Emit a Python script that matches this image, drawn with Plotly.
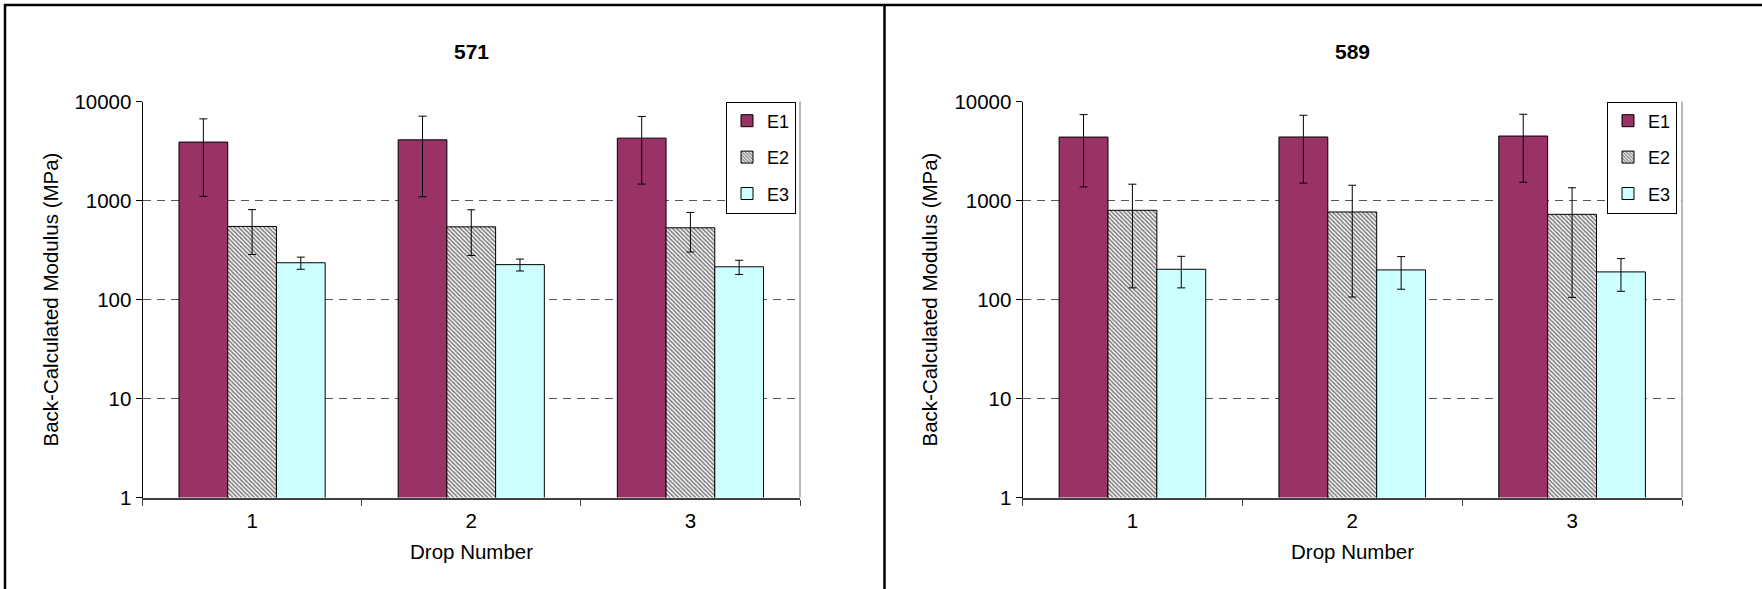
import plotly.graph_objects as go

# ---- data ----
drops = ["1", "2", "3"]
series_names = ["E1", "E2", "E3"]

# Section 571
e1_571 = [3890, 4100, 4265]
e1_571_sd = [2790, 3010, 2800]
e2_571 = [547, 542, 530]
e2_571_sd = [262, 264, 228]
e3_571 = [235, 225, 214]
e3_571_sd = [33, 31, 35]

# Section 589
e1_589 = [4370, 4380, 4480]
e1_589_sd = [3000, 2880, 2950]
e2_589 = [796, 766, 725]
e2_589_sd = [665, 660, 620]
e3_589 = [202, 199, 190]
e3_589_sd = [71, 72, 69]

panel_titles = ["571", "589"]
y_tickvals = [1, 10, 100, 1000, 10000]
y_ticktext = ["1", "10", "100", "1000", "10000"]
x_title = "Drop Number"
y_title = "Back-Calculated Modulus (MPa)"

W, H = 1762, 589
FONT = "Liberation Sans, Arial, sans-serif"
FS = 20.5

def px(x):
    return x / W

def py(y):
    return 1 - y / H

styles = {
    "E1": dict(color="#993366"),
    "E2": dict(color="white", pattern=dict(shape="\\", size=3, solidity=0.55,
                                           fgcolor="#000000", bgcolor="white", fillmode="overlay")),
    "E3": dict(color="#CCFFFF"),
}

panels = [
    dict(vals=[e1_571, e2_571, e3_571], sds=[e1_571_sd, e2_571_sd, e3_571_sd],
         xa="x", ya="y", leg="legend", dom=(142.5, 800), legx=726, ytitle_x=50, title=panel_titles[0]),
    dict(vals=[e1_589, e2_589, e3_589], sds=[e1_589_sd, e2_589_sd, e3_589_sd],
         xa="x2", ya="y2", leg="legend2", dom=(1022.5, 1682), legx=1607, ytitle_x=929, title=panel_titles[1]),
]

fig = go.Figure()
for pi, p in enumerate(panels):
    for name, v, sd in zip(series_names, p["vals"], p["sds"]):
        fig.add_trace(go.Bar(
            x=drops, y=v, name=name,
            marker=dict(line=dict(color="black", width=1), **styles[name]),
            error_y=dict(type="data", array=sd, visible=True, color="black", thickness=1, width=4),
            xaxis=p["xa"], yaxis=p["ya"], legend=p["leg"],
            legendgroup=f"{pi}_{name}",
        ))

ydom = [py(497.5), py(101.5)]
axis_common_y = dict(
    type="log", range=[0, 4], tickvals=y_tickvals, ticktext=y_ticktext,
    showgrid=True, gridcolor="#555555", griddash="8px,6px", gridwidth=1,
    showline=True, linecolor="black", linewidth=1,
    ticks="outside", ticklen=6, tickcolor="black",
    tickfont=dict(family=FONT, size=FS, color="black"),
    domain=ydom, automargin=False,
)
axis_common_x = dict(
    type="category", tickson="boundaries", ticks="outside", ticklen=6,
    tickcolor="#404040", showline=True, linecolor="#404040", linewidth=2,
    showgrid=False, tickfont=dict(family=FONT, size=FS, color="black"),
    ticklabelstandoff=4, automargin=False,
)

layout = dict(
    width=W, height=H, autosize=False, margin=dict(l=0, r=0, t=0, b=0, pad=0),
    paper_bgcolor="white", plot_bgcolor="white",
    barmode="group", bargap=0.333, bargroupgap=0,
    font=dict(family=FONT, color="black"),
    xaxis=dict(domain=[px(142.5), px(800)], anchor="y", **axis_common_x),
    yaxis=dict(anchor="x", **axis_common_y),
    xaxis2=dict(domain=[px(1022.5), px(1682)], anchor="y2", **axis_common_x),
    yaxis2=dict(anchor="x2", **axis_common_y),
)

for p in panels:
    layout[p["leg"]] = dict(
        x=px(p["legx"]), y=py(101.5), xanchor="left", yanchor="top",
        bgcolor="white", bordercolor="black", borderwidth=1,
        font=dict(family=FONT, size=18, color="black"),
        traceorder="grouped", tracegroupgap=10,
    )

fig.update_layout(**layout)

annotations = []
shapes = []
for p in panels:
    cx = px((p["dom"][0] + p["dom"][1]) / 2)
    annotations.append(dict(text=f"<b>{p['title']}</b>", x=cx, y=py(52), xref="paper", yref="paper",
                            showarrow=False, font=dict(family=FONT, size=21, color="black"),
                            xanchor="center", yanchor="middle"))
    annotations.append(dict(text=x_title, x=cx, y=py(551), xref="paper", yref="paper",
                            showarrow=False, font=dict(family=FONT, size=FS, color="black"),
                            xanchor="center", yanchor="middle"))
    annotations.append(dict(text=y_title, x=px(p["ytitle_x"]), y=py(299.5), xref="paper", yref="paper",
                            showarrow=False, textangle=-90, font=dict(family=FONT, size=FS, color="black"),
                            xanchor="center", yanchor="middle"))
    shapes.append(dict(type="line", xref=p["xa"] + " domain", yref=p["ya"] + " domain",
                       x0=1, x1=1, y0=0, y1=1, line=dict(color="#a0a0a0", width=1.5)))

# panel borders
shapes.append(dict(type="line", xref="paper", yref="paper", x0=px(4), x1=1, y0=py(5), y1=py(5),
                   line=dict(color="black", width=2.5)))
shapes.append(dict(type="line", xref="paper", yref="paper", x0=px(5), x1=px(5), y0=py(4), y1=0,
                   line=dict(color="black", width=2.5)))
shapes.append(dict(type="line", xref="paper", yref="paper", x0=px(884.5), x1=px(884.5), y0=py(4), y1=0,
                   line=dict(color="black", width=2.5)))

fig.update_layout(annotations=annotations, shapes=shapes, showlegend=True)
fig.write_html("out.html", config={"displayModeBar": False},
               post_script="document.body.style.margin='0px';")
